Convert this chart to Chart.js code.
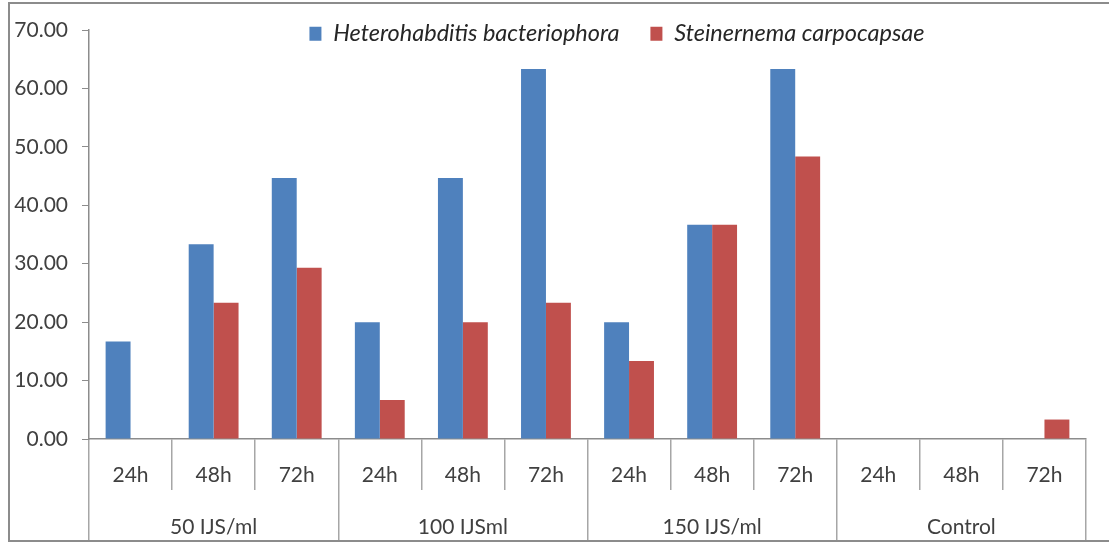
<!DOCTYPE html>
<html>
<head>
<meta charset="utf-8">
<title>Mortality by nematode species</title>
<script src="https://cdn.jsdelivr.net/npm/chart.js@4.4.1/dist/chart.umd.min.js"></script>
<style>
  html, body { margin: 0; padding: 0; background: #ffffff; }
  #wrap { position: relative; width: 1109px; height: 543px; }
</style>
</head>
<body>
<div id="wrap"><canvas id="chart" width="1109" height="543"></canvas></div>
<script>
// Exposure times (inner axis row) and concentration groups (outer row)
const times = ['24h', '48h', '72h', '24h', '48h', '72h', '24h', '48h', '72h', '24h', '48h', '72h'];
const groups = ['50 IJS/ml', '100 IJSml', '150 IJS/ml', 'Control'];

// Mortality values per species
const heterorhabditis = [16.67, 33.33, 44.67, 20.00, 44.67, 63.33, 20.00, 36.67, 63.33, 0, 0, 0];
const steinernema     = [0, 23.33, 29.33, 6.67, 20.00, 23.33, 13.33, 36.67, 48.33, 0, 0, 3.33];

const yTicks = [0, 10, 20, 30, 40, 50, 60, 70];

const FONT = 'Lato, "Open Sans", sans-serif';
const TEXT = '#404040';
const LINE = '#a6a6a6';

// Outer frame (top, left, bottom); the legend is nudged so it overlaps the plot top
const framePlugin = {
  id: 'frame',
  afterLayout(chart) {
    const lg = chart.legend;
    if (lg) {
      lg.left += 69; lg.right += 69;
      lg.top = -9; lg.bottom = 60;
    }
  },
  afterDraw(chart) {
    const ctx = chart.ctx;
    ctx.save();
    ctx.strokeStyle = '#8c8c8c';
    ctx.lineWidth = 2;
    ctx.beginPath();
    ctx.moveTo(chart.width, 3);
    ctx.lineTo(9, 3);
    ctx.lineTo(9, 541);
    ctx.lineTo(chart.width, 541);
    ctx.stroke();
    ctx.restore();
  }
};

new Chart(document.getElementById('chart'), {
  type: 'bar',
  data: {
    labels: times,
    datasets: [
      { label: 'Heterohabditis bacteriophora', data: heterorhabditis, backgroundColor: '#4f81bd', borderWidth: 0 },
      { label: 'Steinernema carpocapsae', data: steinernema, backgroundColor: '#c0504d', borderWidth: 0 }
    ]
  },
  plugins: [framePlugin],
  options: {
    responsive: false,
    animation: false,
    maintainAspectRatio: false,
    layout: { padding: { left: 10, right: 23, top: 0, bottom: 3 } },
    datasets: { bar: { categoryPercentage: 0.6, barPercentage: 1.0 } },
    plugins: {
      tooltip: { enabled: false },
      legend: {
        position: 'top',
        align: 'center',
        maxHeight: 30,
        labels: {
          boxWidth: 12,
          boxHeight: 14,
          padding: 31,
          color: '#262626',
          font: { family: FONT, size: 23.5, style: 'italic' }
        }
      }
    },
    scales: {
      y: {
        min: 0,
        max: 70,
        afterBuildTicks(scale) { scale.ticks = yTicks.map(v => ({ value: v })); },
        afterFit(scale) { scale.width = 79; },
        ticks: {
          padding: 14,
          color: TEXT,
          font: { family: FONT, size: 21 },
          callback: v => Number(v).toFixed(2)
        },
        grid: { display: true, drawOnChartArea: false, tickLength: 7, color: '#8c8c8c' },
        border: { color: '#8c8c8c', width: 1.5 }
      },
      x: {
        position: 'bottom',
        offset: true,
        afterFit(scale) { scale.height = 51; },
        ticks: {
          padding: -27,
          color: TEXT,
          autoSkip: false,
          maxRotation: 0,
          font: { family: FONT, size: 21 }
        },
        grid: { offset: true, drawOnChartArea: false, tickLength: 51, color: LINE, lineWidth: 1.5 },
        border: { color: '#8c8c8c', width: 1.5 }
      },
      x2: {
        type: 'category',
        position: 'bottom',
        labels: groups,
        offset: true,
        afterFit(scale) { scale.height = 50; },
        ticks: {
          padding: -25,
          color: TEXT,
          autoSkip: false,
          maxRotation: 0,
          font: { family: FONT, size: 21 }
        },
        grid: { offset: true, drawOnChartArea: false, tickLength: 50, color: LINE, lineWidth: 1.5 },
        border: { display: false }
      }
    }
  }
});
</script>
</body>
</html>
